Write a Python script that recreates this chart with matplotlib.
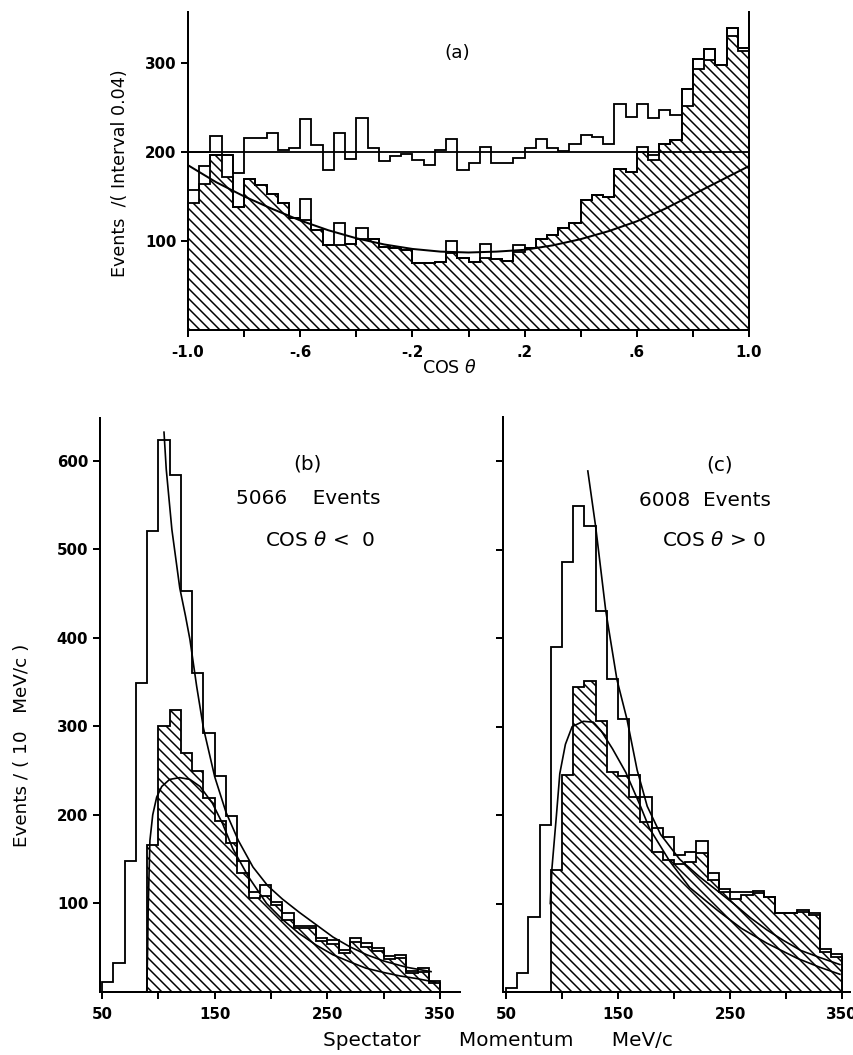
import numpy as np
import matplotlib.pyplot as plt

plt.rcParams['font.family'] = 'DejaVu Sans'
plt.rcParams['hatch.linewidth'] = 0.9

# ---- panel (a): cos theta distribution, 50 bins of 0.04
edges_a = np.linspace(-1.0, 1.0, 51)
upper_a = [200, 200, 218, 197, 176, 215, 215, 221, 202, 204,
           237, 208, 180, 221, 192, 238, 204, 190, 195, 198,
           191, 185, 202, 214, 180, 188, 205, 187, 188, 193,
           204, 214, 204, 201, 209, 219, 217, 209, 254, 239,
           254, 238, 247, 241, 270, 304, 316, 297, 339, 317]
hatch_a = [143, 164, 196, 172, 138, 169, 163, 153, 143, 126,
           124, 112, 95, 95, 96, 102, 102, 93, 92, 90,
           75, 75, 76, 87, 81, 76, 81, 80, 77, 88,
           92, 102, 107, 115, 120, 146, 152, 149, 181, 177,
           200, 191, 209, 213, 252, 293, 303, 297, 330, 313]
outline_a = [157, 184, 196, 196, 138, 169, 163, 153, 143, 126,
             147, 112, 95, 120, 96, 114, 102, 93, 92, 90,
             75, 75, 76, 100, 81, 76, 96, 80, 77, 95,
             92, 102, 107, 115, 120, 146, 152, 149, 181, 177,
             205, 196, 209, 213, 270, 304, 316, 297, 339, 317]
curve_a_x = [-1.0, -0.9, -0.8, -0.7, -0.6, -0.5, -0.4, -0.3, -0.2, -0.1, 0.0,
             0.1, 0.2, 0.3, 0.4, 0.5, 0.6, 0.7, 0.8, 0.9, 1.0]
curve_a_y = [185, 166, 150, 136, 123, 112, 103, 96, 91, 88, 87,
             88, 90, 95, 102, 111, 122, 136, 152, 168, 184]
flat_a = 200
xticklabels_a = ['-1.0', '', '-.6', '', '-.2', '', '.2', '', '.6', '', '1.0']

# ---- panels (b) and (c): spectator momentum, 10 MeV/c bins
edges_open = np.arange(50, 351, 10)
edges_hatch = np.arange(90, 351, 10)

open_b = [11, 33, 148, 349, 520, 623, 584, 453, 360, 292,
          244, 199, 148, 113, 121, 102, 89, 75, 75, 61,
          59, 47, 61, 55, 50, 41, 42, 24, 27, 12]
hatch_b = [166, 300, 318, 270, 249, 219, 193, 168, 134, 106,
           108, 98, 81, 72, 72, 58, 54, 44, 57, 51,
           46, 37, 38, 21, 23, 10]
fit_b_hi_x = [105, 107, 112, 119, 124, 128, 134, 140, 150, 160, 171, 184,
              197, 210, 225, 240, 255, 270, 285, 300, 320, 342]
fit_b_hi_y = [632, 590, 522, 456, 425, 398, 345, 298, 243, 203, 171, 141,
              120, 105, 90, 76, 62, 51, 42, 35, 28, 23]
fit_b_lo_x = [89.7, 90.5, 91, 92.5, 95, 98.5, 103, 110, 119, 128, 137, 148,
              157, 166, 180, 196, 210, 225, 240, 255, 270, 284, 300, 315, 330, 346]
fit_b_lo_y = [0, 50, 96, 171, 200, 220, 232, 240, 242, 240, 232, 213,
              190, 162, 130, 100, 82, 66, 53, 42, 34, 27, 22, 18, 15, 11]

open_c = [4, 21, 85, 189, 390, 486, 549, 527, 431, 354,
          309, 245, 221, 185, 175, 155, 158, 171, 134, 117,
          113, 113, 114, 107, 89, 89, 93, 89, 49, 43]
hatch_c = [138, 245, 345, 352, 306, 249, 244, 221, 192, 158,
           149, 145, 147, 157, 127, 113, 105, 110, 112, 107,
           89, 89, 91, 87, 45, 40]
fit_c_hi_x = [123, 130, 139, 149, 158, 167, 176, 188, 205, 223, 240, 253,
              268, 283, 298, 313, 330, 348]
fit_c_hi_y = [589, 526, 431, 353, 308, 251, 210, 178, 150, 130, 113, 100,
              84, 70, 58, 47, 39, 31]
fit_c_lo_x = [89.5, 91, 95, 98, 103, 109, 119, 128, 135, 145, 157, 170,
              178, 196, 214, 239, 260, 283, 310, 330, 348]
fit_c_lo_y = [100, 140, 200, 247, 280, 300, 306, 305, 295, 275, 248, 210,
              185, 148, 118, 92, 72, 55, 38, 28, 20]
xticklabels_p = ['50', '', '150', '', '250', '', '350']

W, H = 853, 1055
DPI = 120
fig = plt.figure(figsize=(W / DPI, H / DPI), dpi=DPI)
HATCH = '\\\\\\\\'   # 4 backslashes -> dense SE hatch
LW = 1.1


def style(ax):
    for s in ['top', 'right']:
        ax.spines[s].set_visible(False)
    for s in ['left', 'bottom', 'right']:
        ax.spines[s].set_linewidth(1.2)
    ax.tick_params(direction='out', length=4, width=1.2, pad=3)
    for lab in ax.get_xticklabels() + ax.get_yticklabels():
        lab.set_fontweight('bold')
        lab.set_fontsize(9)


def hist_panel(ax, open_v, hatch_v, fits):
    ax.stairs(hatch_v, edges_hatch, fill=True, facecolor='white', edgecolor='black',
              hatch=HATCH, linewidth=0, zorder=1)
    ax.stairs(hatch_v, edges_hatch, color='black', linewidth=LW, zorder=2)
    ax.stairs(open_v, edges_open, color='black', linewidth=LW, zorder=3)
    for fx, fy in fits:
        ax.plot(fx, fy, color='black', linewidth=1.0, zorder=4)
    ax.set_xticks(np.arange(50, 351, 50))
    ax.set_xticklabels(xticklabels_p)
    ax.set_yticks(np.arange(100, 601, 100))


# ---------------- (a)
axa = fig.add_axes([188 / W, 1 - 330 / H, 561 / W, 318 / H])
axa.stairs(hatch_a, edges_a, fill=True, facecolor='white', edgecolor='black',
           hatch=HATCH, linewidth=0, zorder=1)
axa.stairs(hatch_a, edges_a, color='black', linewidth=LW, zorder=2)
axa.stairs(outline_a, edges_a, color='black', linewidth=LW, zorder=2)
axa.stairs(upper_a, edges_a, color='black', linewidth=LW, zorder=3)
axa.axhline(flat_a, color='black', linewidth=LW, zorder=3)
axa.plot(curve_a_x, curve_a_y, color='black', linewidth=1.2, zorder=4)
axa.set_xlim(-1, 1)
axa.set_ylim(0, 357)
axa.set_xticks(np.linspace(-1.0, 1.0, 11))
axa.set_xticklabels(xticklabels_a)
axa.set_yticks([100, 200, 300])
style(axa)
axa.spines['right'].set_visible(True)
axa.tick_params(axis='x', pad=5)
fig.text(457 / W, 1 - 53 / H, '(a)', ha='center', va='center', fontsize=11)
fig.text(120 / W, 1 - 173 / H, 'Events  /( Interval 0.04)', rotation=90,
         ha='center', va='center', fontsize=10.5)
fig.text(450 / W, 1 - 368 / H, r'COS $\theta$', ha='center', va='center', fontsize=10.5)

# ---------------- (b)
axb = fig.add_axes([100 / W, 1 - 992 / H, 360 / W, 574 / H])
hist_panel(axb, open_b, hatch_b, [(fit_b_hi_x, fit_b_hi_y), (fit_b_lo_x, fit_b_lo_y)])
axb.set_xlim(48.2, 367.7)
axb.set_ylim(0, 648)
style(axb)
axb.tick_params(axis='x', pad=5)
fig.text(307 / W, 1 - 464 / H, '(b)', ha='center', va='center', fontsize=12)
fig.text(308 / W, 1 - 499 / H, '5066    Events', ha='center', va='center', fontsize=12)
fig.text(320 / W, 1 - 541 / H, r'COS $\theta$ <  0', ha='center', va='center', fontsize=12)
fig.text(22 / W, 1 - 745 / H, 'Events / ( 10   MeV/c )', rotation=90,
         ha='center', va='center', fontsize=11)

# ---------------- (c)
axc = fig.add_axes([503 / W, 1 - 992 / H, 347 / W, 575 / H])
hist_panel(axc, open_c, hatch_c, [(fit_c_hi_x, fit_c_hi_y), (fit_c_lo_x, fit_c_lo_y)])
axc.set_xlim(47.3, 357)
axc.set_ylim(0, 650)
axc.set_yticklabels([])
style(axc)
axc.tick_params(axis='x', pad=5)
fig.text(720 / W, 1 - 465 / H, '(c)', ha='center', va='center', fontsize=12)
fig.text(705 / W, 1 - 501 / H, '6008  Events', ha='center', va='center', fontsize=12)
fig.text(714 / W, 1 - 541 / H, r'COS $\theta$ > 0', ha='center', va='center', fontsize=12)

fig.text(498 / W, 1 - 1040 / H, 'Spectator      Momentum      MeV/c',
         ha='center', va='center', fontsize=12)

fig.savefig('out.png', dpi=DPI)
